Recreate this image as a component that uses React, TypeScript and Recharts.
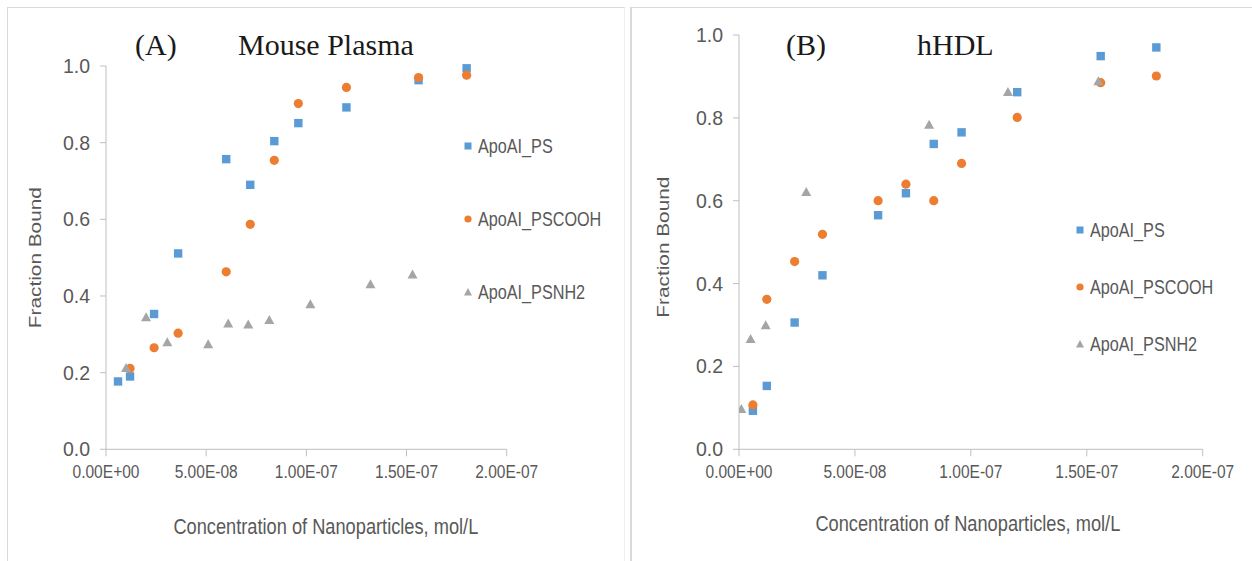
import React from 'react';
import { ScatterChart, Scatter, XAxis, YAxis, Legend, Label } from 'recharts';

// ---------- shared axis ticks ----------
const xTicks = [0, 5e-8, 1e-7, 1.5e-7, 2e-7];
const xTickLabels = ['0.00E+00', '5.00E-08', '1.00E-07', '1.50E-07', '2.00E-07'];
const yTicks = [0, 0.2, 0.4, 0.6, 0.8, 1.0];
const yTickLabels = ['0.0', '0.2', '0.4', '0.6', '0.8', '1.0'];

const seriesNames = ['ApoAI_PS', 'ApoAI_PSCOOH', 'ApoAI_PSNH2'];
const xTitle = 'Concentration of Nanoparticles, mol/L';
const yTitle = 'Fraction Bound';

// ---------- Panel A: Mouse Plasma ----------
const mousePsX = [6e-9, 1.2e-8, 2.4e-8, 3.6e-8, 6e-8, 7.2e-8, 8.4e-8, 9.6e-8, 1.2e-7, 1.56e-7, 1.8e-7];
const mousePsY = [0.177, 0.19, 0.353, 0.511, 0.757, 0.69, 0.804, 0.851, 0.892, 0.963, 0.994];
const mouseCoohX = [1.2e-8, 2.4e-8, 3.6e-8, 6e-8, 7.2e-8, 8.4e-8, 9.6e-8, 1.2e-7, 1.56e-7, 1.8e-7];
const mouseCoohY = [0.211, 0.265, 0.303, 0.463, 0.587, 0.754, 0.902, 0.944, 0.97, 0.976];
const mouseNh2X = [1.0e-8, 2.0e-8, 3.06e-8, 5.1e-8, 6.1e-8, 7.1e-8, 8.15e-8, 1.02e-7, 1.32e-7, 1.53e-7];
const mouseNh2Y = [0.211, 0.343, 0.278, 0.273, 0.327, 0.324, 0.336, 0.377, 0.429, 0.455];

// ---------- Panel B: hHDL ----------
const hdlPsX = [6e-9, 1.2e-8, 2.4e-8, 3.6e-8, 6e-8, 7.2e-8, 8.4e-8, 9.6e-8, 1.2e-7, 1.56e-7, 1.8e-7];
const hdlPsY = [0.093, 0.153, 0.306, 0.42, 0.565, 0.618, 0.737, 0.765, 0.862, 0.949, 0.97];
const hdlCoohX = [6e-9, 1.2e-8, 2.4e-8, 3.6e-8, 6e-8, 7.2e-8, 8.4e-8, 9.6e-8, 1.2e-7, 1.56e-7, 1.8e-7];
const hdlCoohY = [0.107, 0.362, 0.453, 0.519, 0.6, 0.64, 0.6, 0.69, 0.801, 0.885, 0.901];
const hdlNh2X = [1e-9, 5e-9, 1.15e-8, 2.9e-8, 8.2e-8, 1.16e-7, 1.55e-7];
const hdlNh2Y = [0.096, 0.265, 0.298, 0.62, 0.782, 0.861, 0.887];

const BLUE = '#5B9BD5';
const ORANGE = '#ED7D31';
const GRAY = '#A5A5A5';
const AXIS = '#BFBFBF';
const TEXT = '#595959';
const SANS = "'Liberation Sans', Arial, sans-serif";
const SERIF = "'Liberation Serif', 'Times New Roman', serif";
const SQUEEZE = 0.79;

const zip = (xs: number[], ys: number[]) => xs.map((x, i) => ({ x, y: ys[i] }));

const SquareShape = (p: any) => (
  <rect x={p.cx - 4.2} y={p.cy - 4.2} width={8.4} height={8.4} fill={BLUE} />
);
const CircleShape = (p: any) => <circle cx={p.cx} cy={p.cy} r={4.6} fill={ORANGE} />;
const TriangleShape = (p: any) => (
  <polygon
    points={`${p.cx},${p.cy - 5.5} ${p.cx + 5},${p.cy + 3.5} ${p.cx - 5},${p.cy + 3.5}`}
    fill={GRAY}
  />
);

const LegendMarker = ({ i }: { i: number }) => (
  <svg width={10} height={10} style={{ display: 'block' }}>
    {i === 0 && <rect x={1.5} y={1.5} width={7} height={7} fill={BLUE} />}
    {i === 1 && <circle cx={5} cy={5} r={3.6} fill={ORANGE} />}
    {i === 2 && <polygon points="5,1 9,8.5 1,8.5" fill={GRAY} />}
  </svg>
);

const makeLegend = (gap: number) => () => (
  <div style={{ fontFamily: SANS, fontSize: 20.5, color: TEXT, whiteSpace: 'nowrap' }}>
    {seriesNames.map((n, i) => (
      <div
        key={n}
        style={{ display: 'flex', alignItems: 'center', height: 24, marginBottom: i < 2 ? gap - 24 : 0 }}
      >
        <LegendMarker i={i} />
        <span
          style={{
            marginLeft: 5,
            lineHeight: '24px',
            display: 'inline-block',
            transform: `scaleX(${SQUEEZE})`,
            transformOrigin: 'left center',
          }}
        >
          {n}
        </span>
      </div>
    ))}
  </div>
);

const xFmt = (v: number) => {
  const idx = xTicks.findIndex((t) => Math.abs(t - v) < 1e-12);
  return idx >= 0 ? xTickLabels[idx] : '';
};
const yFmt = (v: number) => {
  const idx = yTicks.findIndex((t) => Math.abs(t - v) < 1e-9);
  return idx >= 0 ? yTickLabels[idx] : '';
};

const XTick = (p: any) => (
  <text
    transform={`translate(${p.x},${p.y}) scale(0.84,1)`}
    textAnchor="middle"
    dy="0.71em"
    fill={TEXT}
    fontSize={18.5}
    fontFamily={SANS}
  >
    {xFmt(p.payload.value)}
  </text>
);

const YTick = (p: any) => (
  <text
    transform={`translate(${p.x},${p.y})`}
    textAnchor="end"
    dy="0.36em"
    fill={TEXT}
    fontSize={19.5}
    fontFamily={SANS}
  >
    {yFmt(p.payload.value)}
  </text>
);

const makeXTitle = (dx: number, offset: number) => (props: any) => {
  const vb = props.viewBox || {};
  const cx = vb.x + vb.width / 2 + dx;
  const y = vb.y + vb.height + offset;
  return (
    <text
      transform={`translate(${cx},${y}) scale(0.81,1)`}
      textAnchor="middle"
      dy="0.71em"
      fill={TEXT}
      fontSize={22.5}
      fontFamily={SANS}
    >
      {xTitle}
    </text>
  );
};

const makeYTitle = (dx: number, dy: number) => (props: any) => {
  const vb = props.viewBox || {};
  const cx = vb.x + vb.width / 2 + dx;
  const cy = vb.y + vb.height / 2 + dy;
  return (
    <text
      transform={`translate(${cx},${cy}) scale(${SQUEEZE},1) rotate(-90)`}
      textAnchor="middle"
      dy="0.36em"
      fill={TEXT}
      fontSize={20.8}
      fontFamily={SANS}
    >
      {yTitle}
    </text>
  );
};

type PanelProps = {
  width: number;
  margin: { top: number; right: number; bottom: number; left: number };
  yAxisWidth: number;
  ps: { x: number; y: number }[];
  cooh: { x: number; y: number }[];
  nh2: { x: number; y: number }[];
  legendLeft: number;
  legendTop: number;
  legendGap: number;
  xTitleDx: number;
  xTitleOffset: number;
  yTitleDx: number;
  yTitleDy: number;
};

const Panel = (p: PanelProps) => (
  <ScatterChart width={p.width} height={561} margin={p.margin}>
    <XAxis
      type="number"
      dataKey="x"
      domain={[0, 2e-7]}
      ticks={xTicks}
      interval={0}
      height={40}
      stroke={AXIS}
      tickSize={7}
      tickMargin={9}
      tick={<XTick />}
      allowDataOverflow
    >
      <Label content={makeXTitle(p.xTitleDx, p.xTitleOffset)} />
    </XAxis>
    <YAxis
      type="number"
      dataKey="y"
      domain={[0, 1]}
      ticks={yTicks}
      interval={0}
      width={p.yAxisWidth}
      stroke={AXIS}
      tickSize={6}
      tickMargin={10}
      tick={<YTick />}
    >
      <Label content={makeYTitle(p.yTitleDx, p.yTitleDy)} />
    </YAxis>
    <Legend
      layout="vertical"
      align="center"
      verticalAlign="middle"
      content={makeLegend(p.legendGap)}
      wrapperStyle={{ left: p.legendLeft, top: p.legendTop, width: 'auto', height: 'auto' }}
    />
    <Scatter name={seriesNames[0]} data={p.ps} shape={SquareShape} isAnimationActive={false} />
    <Scatter name={seriesNames[1]} data={p.cooh} shape={CircleShape} isAnimationActive={false} />
    <Scatter name={seriesNames[2]} data={p.nh2} shape={TriangleShape} isAnimationActive={false} />
  </ScatterChart>
);

const titleStyle: React.CSSProperties = {
  position: 'absolute',
  fontFamily: SERIF,
  fontSize: 30,
  color: '#1a1a1a',
  whiteSpace: 'nowrap',
  lineHeight: '30px',
};

export default function App() {
  return (
    <div
      style={{
        position: 'absolute',
        left: 0,
        top: 0,
        width: 1252,
        height: 561,
        background: '#fff',
        overflow: 'hidden',
      }}
    >
      {/* panel frames */}
      <div
        style={{
          position: 'absolute',
          left: 7,
          top: 7,
          width: 616,
          height: 600,
          borderLeft: '1.5px solid #d9d9d9',
          borderTop: '1.5px solid #d9d9d9',
          borderRight: '1px solid #f0f0f0',
        }}
      />
      <div
        style={{
          position: 'absolute',
          left: 630,
          top: 7,
          width: 640,
          height: 600,
          borderLeft: '2px solid #d9d9d9',
          borderTop: '1.5px solid #d9d9d9',
        }}
      />

      <div style={{ position: 'absolute', left: 0, top: 0 }}>
        <Panel
          width={626}
          margin={{ top: 66, right: 119.3, bottom: 71.7, left: 0 }}
          yAxisWidth={106}
          ps={zip(mousePsX, mousePsY)}
          cooh={zip(mouseCoohX, mouseCoohY)}
          nh2={zip(mouseNh2X, mouseNh2Y)}
          legendLeft={463}
          legendTop={134}
          legendGap={73}
          xTitleDx={19.5}
          xTitleOffset={29}
          yTitleDx={-18}
          yTitleDy={0}
        />
      </div>
      <div style={{ position: 'absolute', left: 632, top: 0 }}>
        <Panel
          width={620}
          margin={{ top: 35, right: 49.3, bottom: 71.7, left: 0 }}
          yAxisWidth={107}
          ps={zip(hdlPsX, hdlPsY)}
          cooh={zip(hdlCoohX, hdlCoohY)}
          nh2={zip(hdlNh2X, hdlNh2Y)}
          legendLeft={443}
          legendTop={218}
          legendGap={57}
          xTitleDx={-3}
          xTitleOffset={26}
          yTitleDx={-22.5}
          yTitleDy={5}
        />
      </div>

      <div style={{ ...titleStyle, left: 135, top: 30 }}>(A)</div>
      <div style={{ ...titleStyle, left: 238, top: 30 }}>Mouse Plasma</div>
      <div style={{ ...titleStyle, left: 786, top: 30 }}>(B)</div>
      <div style={{ ...titleStyle, left: 917, top: 30 }}>hHDL</div>
    </div>
  );
}
